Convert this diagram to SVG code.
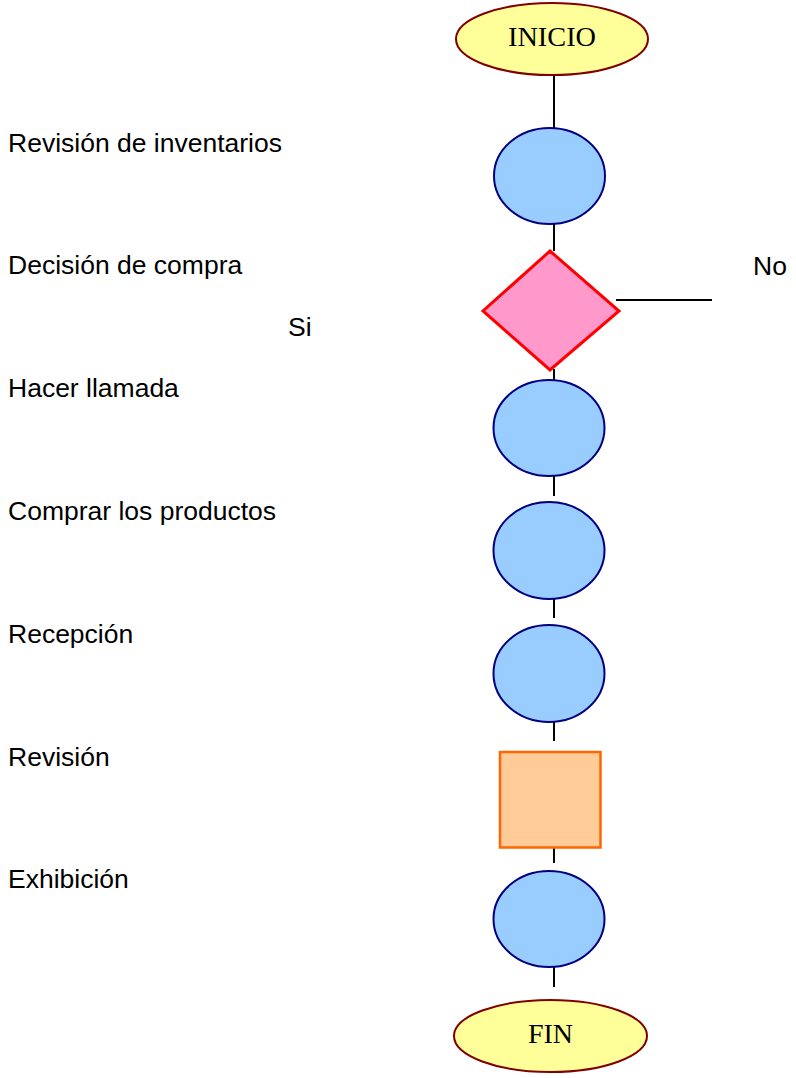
<svg xmlns="http://www.w3.org/2000/svg" width="796" height="1078" viewBox="0 0 796 1078">
  <style>
    .label { font-family: "Liberation Sans", Arial, sans-serif; font-size: 26.5px; fill: #000; }
    .term { fill: #FFFF99; stroke: #800000; stroke-width: 2; }
    .termtext { font-family: "Liberation Serif", "Times New Roman", serif; font-size: 27px; fill: #000; text-anchor: middle; }
    .step { fill: #99CCFF; stroke: #000080; stroke-width: 2; }
    .decision { fill: #FF99CC; stroke: #FF0000; stroke-width: 3; }
    .check { fill: #FFCC99; stroke: #FF6600; stroke-width: 2.5; }
    .conn { stroke: #000; stroke-width: 2; fill: none; }
  </style>
  <rect width="796" height="1078" fill="#fff"/>

  <!-- connectors -->
  <g id="connectors">
    <line class="conn" x1="554" y1="75" x2="554" y2="128"/>
    <line class="conn" x1="554" y1="224" x2="554" y2="251"/>
    <line class="conn" x1="554" y1="369" x2="554" y2="380"/>
    <line class="conn" x1="554" y1="476" x2="554" y2="496"/>
    <line class="conn" x1="554" y1="599" x2="554" y2="618"/>
    <line class="conn" x1="554" y1="722" x2="554" y2="741"/>
    <line class="conn" x1="554" y1="848" x2="554" y2="863"/>
    <line class="conn" x1="554" y1="967" x2="554" y2="987"/>
    <line class="conn" x1="616" y1="300" x2="712" y2="300"/>
  </g>

  <!-- step labels on the left -->
  <g id="labels">
    <text class="label" x="8" y="152">Revisión de inventarios</text>
    <text class="label" x="8" y="274">Decisión de compra</text>
    <text class="label" x="288" y="336">Si</text>
    <text class="label" x="753" y="275">No</text>
    <text class="label" x="8" y="397">Hacer llamada</text>
    <text class="label" x="8" y="520">Comprar los productos</text>
    <text class="label" x="8" y="643">Recepción</text>
    <text class="label" x="8" y="766">Revisión</text>
    <text class="label" x="8" y="888">Exhibición</text>
  </g>

  <g id="inicio">
    <ellipse class="term" cx="552" cy="39" rx="96" ry="36"/>
    <text class="termtext" x="552" y="46" textLength="88" lengthAdjust="spacingAndGlyphs">INICIO</text>
  </g>

  <g id="revision-inventarios">
    <ellipse class="step" cx="549.5" cy="176" rx="55.5" ry="48"/>
  </g>

  <g id="decision-compra">
    <polygon class="decision" points="550,251 619,311 550,370 483,311"/>
  </g>

  <g id="hacer-llamada">
    <ellipse class="step" cx="549" cy="428" rx="55.5" ry="48"/>
  </g>

  <g id="comprar-productos">
    <ellipse class="step" cx="549" cy="550.5" rx="55.5" ry="48.5"/>
  </g>

  <g id="recepcion">
    <ellipse class="step" cx="549" cy="673.5" rx="55.5" ry="48.5"/>
  </g>

  <g id="revision">
    <rect class="check" x="500" y="752" width="100.5" height="95.5"/>
  </g>

  <g id="exhibicion">
    <ellipse class="step" cx="549" cy="919" rx="55.5" ry="48"/>
  </g>

  <g id="fin">
    <ellipse class="term" cx="550.5" cy="1036" rx="96.5" ry="36"/>
    <text class="termtext" x="550.5" y="1043" textLength="45" lengthAdjust="spacingAndGlyphs">FIN</text>
  </g>
</svg>
